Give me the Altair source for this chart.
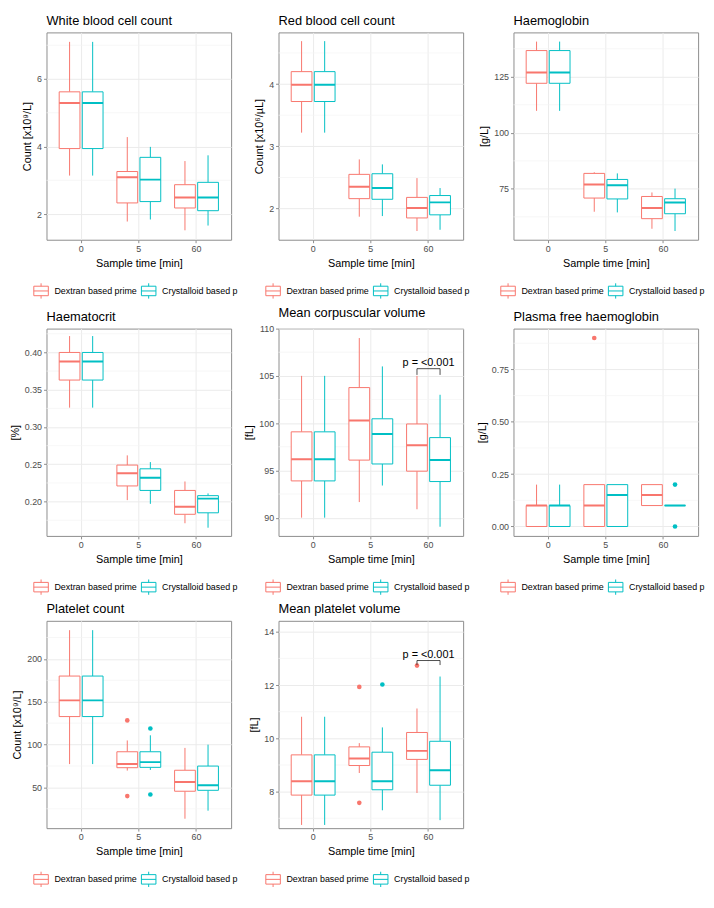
import altair as alt
import pandas as pd

TIMES = ["0", "5", "60"]
GROUPS = ["Dextran based prime", "Crystalloid based prime"]
COLORS = ["#F8766D", "#00BFC4"]
# box order: (0,Dextran) (0,Crystalloid) (5,D) (5,C) (60,D) (60,C)
BOX_ORDER = [("0", 0), ("0", 1), ("5", 0), ("5", 1), ("60", 0), ("60", 1)]

# each row: lower whisker, Q1, median, Q3, upper whisker
WBC = [[3.14, 3.94, 5.29, 5.62, 7.10], [3.14, 3.94, 5.29, 5.62, 7.10],
       [1.78, 2.33, 3.09, 3.26, 4.28], [1.84, 2.37, 3.02, 3.68, 3.99],
       [1.52, 2.18, 2.49, 2.87, 3.57], [1.66, 2.10, 2.49, 2.94, 3.74]]
WBC_OUT = []
RBC = [[3.22, 3.72, 3.99, 4.20, 4.69], [3.22, 3.72, 3.99, 4.20, 4.69],
       [1.87, 2.16, 2.35, 2.55, 2.79], [1.88, 2.15, 2.33, 2.56, 2.71],
       [1.64, 1.85, 2.01, 2.18, 2.49], [1.66, 1.90, 2.10, 2.21, 2.33]]
RBC_OUT = []
HGB = [[109.8, 122.1, 126.9, 136.7, 140.7], [109.8, 122.1, 126.9, 136.7, 140.7],
       [64.8, 70.9, 76.9, 81.9, 82.4], [64.5, 70.5, 76.6, 79.2, 81.9],
       [57.2, 61.7, 66.5, 71.6, 73.4], [56.2, 63.9, 68.9, 70.6, 75.1]]
HGB_OUT = []
HCT = [[0.326, 0.363, 0.388, 0.400, 0.422], [0.326, 0.363, 0.388, 0.400, 0.422],
       [0.202, 0.221, 0.238, 0.249, 0.262], [0.197, 0.215, 0.232, 0.244, 0.253],
       [0.171, 0.183, 0.193, 0.215, 0.227], [0.165, 0.185, 0.204, 0.208, 0.211]]
HCT_OUT = []
MCV = [[90.0, 93.89, 96.19, 99.08, 105.0], [90.0, 93.89, 96.19, 99.08, 105.0],
       [91.65, 96.09, 100.29, 103.76, 109.0], [93.4, 95.68, 98.84, 100.46, 106.0],
       [90.89, 94.92, 97.67, 99.91, 105.0], [89.04, 93.82, 96.09, 98.47, 103.0]]
MCV_OUT = []
MCV_SIG = ["60", 105.1, 105.76, "p = <0.001"]
PFH = [[0.0, 0.0, 0.10, 0.10, 0.20], [0.0, 0.0, 0.10, 0.10, 0.20],
       [0.0, 0.0, 0.10, 0.20, 0.20], [0.0, 0.0, 0.15, 0.20, 0.20],
       [0.10, 0.10, 0.15, 0.20, 0.20], [0.10, 0.10, 0.10, 0.10, 0.10]]
PFH_OUT = [("5", 0, 0.90), ("60", 1, 0.20), ("60", 1, 0.00)]
PLT = [[77.2, 132.7, 151.6, 180.0, 233.6], [77.2, 132.7, 151.6, 180.0, 233.6],
       [69.6, 73.0, 77.2, 91.6, 104.8], [70.4, 73.4, 79.5, 91.6, 110.8],
       [13.4, 45.5, 56.4, 70.0, 96.1], [22.8, 46.6, 52.6, 74.9, 99.9]]
PLT_OUT = [("5", 0, 128.2), ("5", 0, 39.8), ("5", 1, 118.8), ("5", 1, 41.7)]
MPV = [[6.75, 7.87, 8.39, 9.38, 10.81], [6.75, 7.87, 8.39, 9.38, 10.81],
       [8.70, 8.98, 9.24, 9.68, 9.82], [7.30, 8.07, 8.39, 9.48, 10.41],
       [7.95, 9.21, 9.53, 10.22, 11.12], [6.93, 8.24, 8.80, 9.89, 12.32]]
MPV_OUT = [("5", 0, 11.93), ("5", 0, 7.58), ("5", 1, 12.02), ("60", 0, 12.73)]
MPV_SIG = ["60", 12.75, 12.92, "p = <0.001"]

PANELS = [
    dict(title="White blood cell count", ytitle="Count [x10⁹/L]", boxes=WBC, out=WBC_OUT,
         domain=[1.24, 7.38], ticks=[2, 4, 6], minor=[3, 5, 7], fmt="d", sig=None),
    dict(title="Red blood cell count", ytitle="Count [x10⁶/µL]", boxes=RBC, out=RBC_OUT,
         domain=[1.50, 4.83], ticks=[2, 3, 4], minor=[2.5, 3.5, 4.5], fmt="d", sig=None),
    dict(title="Haemoglobin", ytitle="[g/L]", boxes=HGB, out=HGB_OUT,
         domain=[52.3, 144.8], ticks=[75, 100, 125], minor=[62.5, 87.5, 112.5, 137.5], fmt="d", sig=None),
    dict(title="Haematocrit", ytitle="[%]", boxes=HCT, out=HCT_OUT,
         domain=[0.154, 0.432], ticks=[0.20, 0.25, 0.30, 0.35, 0.40],
         minor=[0.175, 0.225, 0.275, 0.325, 0.375, 0.425], fmt=".2f", sig=None),
    dict(title="Mean corpuscular volume", ytitle="[fL]", boxes=MCV, out=MCV_OUT,
         domain=[88.07, 110.0], ticks=[90, 95, 100, 105, 110], minor=[92.5, 97.5, 102.5, 107.5], fmt="d", sig=MCV_SIG),
    dict(title="Plasma free haemoglobin", ytitle="[g/L]", boxes=PFH, out=PFH_OUT,
         domain=[-0.045, 0.945], ticks=[0.0, 0.25, 0.50, 0.75], minor=[0.125, 0.375, 0.625, 0.875], fmt=".2f", sig=None),
    dict(title="Platelet count", ytitle="Count [x10⁹/L]", boxes=PLT, out=PLT_OUT,
         domain=[2.4, 244.5], ticks=[50, 100, 150, 200], minor=[25, 75, 125, 175, 225], fmt="d", sig=None),
    dict(title="Mean platelet volume", ytitle="[fL]", boxes=MPV, out=MPV_OUT,
         domain=[6.63, 14.41], ticks=[8, 10, 12, 14], minor=[7, 9, 11, 13], fmt="d", sig=MPV_SIG),
]

W, H = 187, 210
BOX_W = W / 3.2 * 0.36
# legend key drawn as open line segments only (no enclosed area to fill)
BOX_PATH = ("M-0.95,-0.62H0.95 M0.95,-0.62V0.62 M0.95,0.62H-0.95 M-0.95,0.62V-0.62 "
            "M-0.95,0H0.95 M0,-0.62V-1 M0,0.62V1")

cscale = alt.Scale(domain=GROUPS, range=COLORS)
xscale = alt.Scale(domain=TIMES, type="band", paddingInner=0, paddingOuter=0.1)
xoscale = alt.Scale(domain=GROUPS, type="band", paddingInner=0, paddingOuter=0.25)
xaxis = alt.Axis(labelAngle=0, grid=True, bandPosition=0.5, title="Sample time [min]")
legend = alt.Legend(title=None, orient="none", legendX=-14, legendY=H + 43, direction="horizontal",
                    symbolType=BOX_PATH, symbolSize=240, symbolStrokeWidth=1, symbolFillColor="white",
                    labelFontSize=9, labelColor="black", labelOffset=5, columnPadding=2,
                    labelExpr="substring(datum.label, 0, 19)")


def make_panel(p):
    rows = []
    for (t, g), (lo, q1, md, q3, hi) in zip(BOX_ORDER, p["boxes"]):
        rows.append(dict(time=t, group=GROUPS[g], lo=lo, q1=q1, med=md, q3=q3, hi=hi))
    box_df = pd.DataFrame(rows)
    out_df = pd.DataFrame([dict(time=t, group=GROUPS[g], value=v) for t, g, v in p["out"]],
                          columns=["time", "group", "value"])
    yscale = alt.Scale(domain=p["domain"], nice=False, zero=False)
    yaxis = alt.Axis(values=p["ticks"], format=p["fmt"], title=p["ytitle"])

    def Y(field):
        return alt.Y(f"{field}:Q", scale=yscale, axis=yaxis, title=p["ytitle"])

    xenc = alt.X("time:N", scale=xscale, axis=xaxis, title="Sample time [min]")
    xo = alt.XOffset("group:N", scale=xoscale)
    col_leg = alt.Color("group:N", scale=cscale, legend=legend)
    col_noleg = alt.Color("group:N", scale=cscale, legend=None)

    minor = alt.Chart(pd.DataFrame({"v": p["minor"]})).mark_rule(
        color="#F3F3F3", strokeWidth=0.7).encode(y=Y("v"))
    plain = alt.Chart(box_df).encode(x=xenc, xOffset=xo)
    lower = plain.mark_rule(strokeWidth=1).encode(y=Y("lo"), y2="q1", color=col_leg)
    upper = plain.mark_rule(strokeWidth=1).encode(y=Y("q3"), y2="hi", color=col_noleg)
    white = plain.mark_bar(color="white", width=BOX_W).encode(y=Y("q1"), y2="q3")
    box = plain.mark_bar(filled=False, strokeWidth=1, width=BOX_W).encode(
        y=Y("q1"), y2="q3", color=col_noleg)
    med = plain.mark_bar(filled=False, strokeWidth=2, width=BOX_W).encode(
        y=Y("med"), y2="med", color=col_noleg)
    pts = alt.Chart(out_df).mark_circle(size=22, opacity=1).encode(
        x=xenc, xOffset=xo, y=Y("value"),
        fill=alt.Fill("group:N", scale=cscale, legend=None))
    layers = [minor, lower, upper, white, box, med, pts]
    if p["sig"]:
        t, tip, yb, label = p["sig"]
        br_df = pd.DataFrame(dict(time=[t] * 4, group=[GROUPS[0], GROUPS[0], GROUPS[1], GROUPS[1]],
                                  value=[tip, yb, yb, tip], order=[0, 1, 2, 3]))
        bracket = alt.Chart(br_df).mark_line(color="black", strokeWidth=0.7).encode(
            x=xenc, xOffset=xo, y=Y("value"), order="order:Q")
        txt_df = pd.DataFrame(dict(time=[t], value=[yb], label=[label]))
        txt = alt.Chart(txt_df).mark_text(baseline="bottom", dy=-1, fontSize=11, color="black").encode(
            x=xenc, y=Y("value"), text="label:N")
        layers += [bracket, txt]
    return alt.layer(*layers).properties(
        width=W, height=H,
        title=alt.TitleParams(p["title"], anchor="start", frame="group", fontSize=13,
                              fontWeight="normal", color="black", font="Liberation Sans", offset=5))


chart = alt.concat(*[make_panel(p) for p in PANELS], columns=3, spacing=4).resolve_scale(
    color="independent", fill="independent"
).properties(padding=0).configure(font="Liberation Sans").configure_view(
    stroke="#8C8C8C", strokeWidth=1
).configure_axis(
    labelFontSize=9, labelColor="#4D4D4D", titleFontSize=11, titleFontWeight="normal",
    titleColor="black", gridColor="#EBEBEB", gridWidth=1, tickColor="#8C8C8C", tickSize=3,
    domain=False, labelPadding=2, titlePadding=4
).configure_title(
    fontSize=13, fontWeight="normal", color="black", offset=5
)

chart.save("out.html", embed_options={"renderer": "svg", "actions": False})
